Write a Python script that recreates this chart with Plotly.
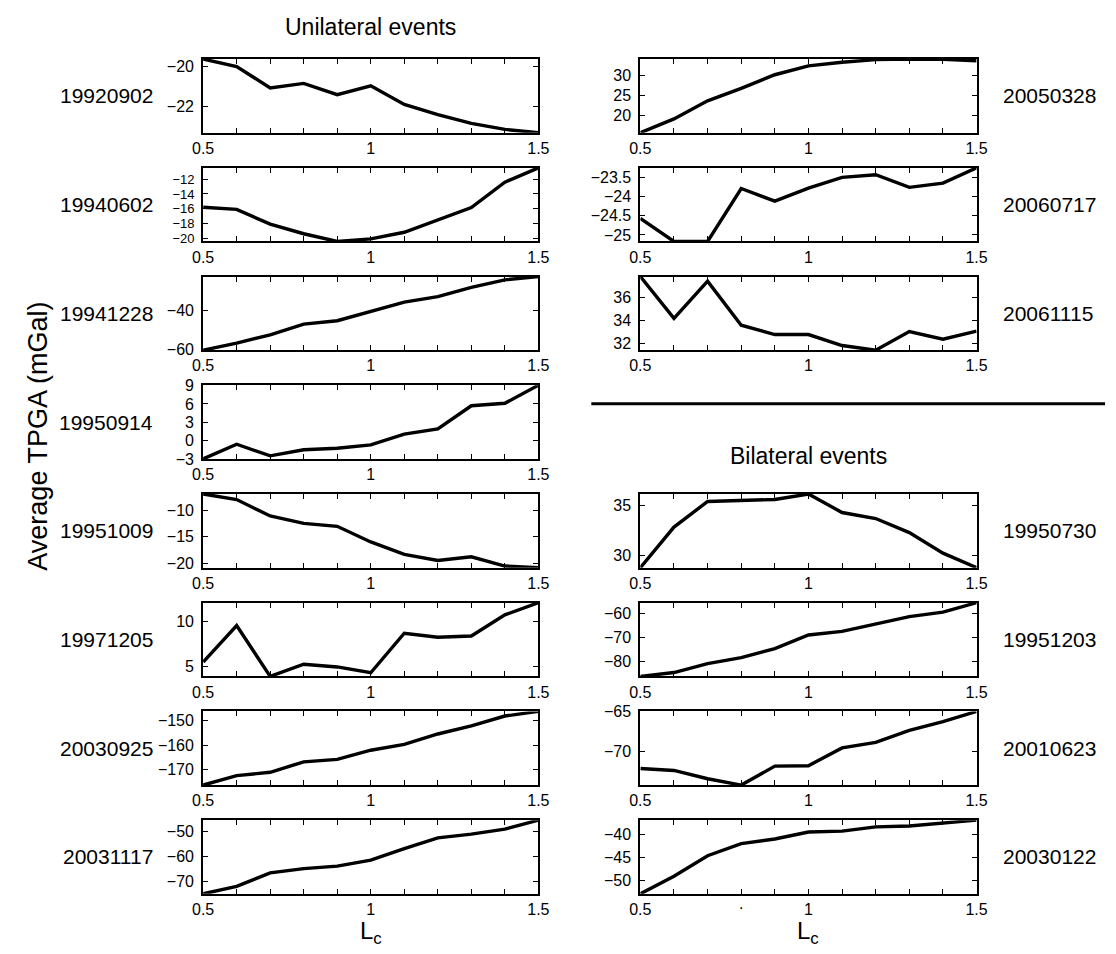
import plotly.graph_objects as go

# Cut-off wavelength L_c sampled along every curve
lc = [0.5, 0.6, 0.7, 0.8, 0.9, 1.0, 1.1, 1.2, 1.3, 1.4, 1.5]
lc_ticks = [0.5, 0.6, 0.7, 0.8, 0.9, 1.0, 1.1, 1.2, 1.3, 1.4, 1.5]
lc_ticktext = ["0.5", "", "", "", "", "1", "", "", "", "", "1.5"]

# Average TPGA (mGal), unilateral events
tpga_19920902 = [-19.62, -20.0, -21.08, -20.85, -21.42, -20.97, -21.92, -22.43, -22.88, -23.18, -23.35]
tpga_19940602 = [-15.8, -16.1, -18.1, -19.4, -20.45, -20.1, -19.2, -17.5, -15.85, -12.4, -10.45]
tpga_19941228 = [-60.3, -56.7, -52.5, -47.0, -45.3, -40.5, -35.8, -33.0, -28.3, -24.5, -22.8]
tpga_19950914 = [-3.0, -0.6, -2.5, -1.5, -1.25, -0.7, 1.05, 1.9, 5.7, 6.1, 9.05]
tpga_19951009 = [-6.95, -8.0, -11.1, -12.5, -13.05, -16.0, -18.35, -19.5, -18.8, -20.55, -20.85]
tpga_19971205 = [5.45, 9.5, 3.85, 5.2, 4.9, 4.25, 8.65, 8.2, 8.35, 10.7, 12.05]
tpga_20030925 = [-176.5, -172.6, -171.2, -166.9, -165.9, -162.1, -159.7, -155.4, -152.1, -148.0, -146.1]
tpga_20031117 = [-75.0, -72.0, -66.6, -64.9, -63.9, -61.5, -56.9, -52.6, -51.1, -49.1, -45.5]
tpga_20050328 = [15.65, 19.1, 23.6, 26.7, 30.1, 32.3, 33.2, 33.85, 34.0, 33.95, 33.6]
tpga_20060717 = [-24.57, -25.17, -25.17, -23.79, -24.12, -23.78, -23.5, -23.43, -23.76, -23.65, -23.25]
tpga_20061115 = [37.8, 34.2, 37.4, 33.6, 32.8, 32.8, 31.85, 31.45, 33.05, 32.4, 33.1]

# Average TPGA (mGal), bilateral events
tpga_19950730 = [28.8, 32.85, 35.4, 35.5, 35.6, 36.15, 34.3, 33.7, 32.3, 30.25, 28.8]
tpga_19951203 = [-86.3, -84.7, -81.0, -78.5, -74.8, -69.1, -67.6, -64.4, -61.5, -59.6, -55.7]
tpga_20010623 = [-72.2, -72.45, -73.5, -74.3, -71.9, -71.85, -69.6, -68.9, -67.4, -66.3, -65.0]
tpga_20030122 = [-52.8, -49.0, -44.6, -42.0, -41.0, -39.5, -39.3, -38.4, -38.2, -37.5, -36.95]

# y tick values of each panel
yt_19920902 = [-22, -20]
yt_19940602 = [-20, -18, -16, -14, -12]
yt_19941228 = [-60, -40]
yt_19950914 = [-3, 0, 3, 6, 9]
yt_19951009 = [-20, -15, -10]
yt_19971205 = [5, 10]
yt_20030925 = [-170, -160, -150]
yt_20031117 = [-70, -60, -50]
yt_20050328 = [20, 25, 30]
yt_20060717 = [-25, -24.5, -24, -23.5]
yt_20061115 = [32, 34, 36]
yt_19950730 = [30, 35]
yt_19951203 = [-80, -70, -60]
yt_20010623 = [-70, -65]
yt_20030122 = [-50, -45, -40]

# (event label, values, y ticks, column, row)
panels = [
    ("19920902", tpga_19920902, yt_19920902, "L", 0),
    ("19940602", tpga_19940602, yt_19940602, "L", 1),
    ("19941228", tpga_19941228, yt_19941228, "L", 2),
    ("19950914", tpga_19950914, yt_19950914, "L", 3),
    ("19951009", tpga_19951009, yt_19951009, "L", 4),
    ("19971205", tpga_19971205, yt_19971205, "L", 5),
    ("20030925", tpga_20030925, yt_20030925, "L", 6),
    ("20031117", tpga_20031117, yt_20031117, "L", 7),
    ("20050328", tpga_20050328, yt_20050328, "R", 0),
    ("20060717", tpga_20060717, yt_20060717, "R", 1),
    ("20061115", tpga_20061115, yt_20061115, "R", 2),
    ("19950730", tpga_19950730, yt_19950730, "R", 4),
    ("19951203", tpga_19951203, yt_19951203, "R", 5),
    ("20010623", tpga_20010623, yt_20010623, "R", 6),
    ("20030122", tpga_20030122, yt_20030122, "R", 7),
]

W, H = 1116, 954
FONT = "Liberation Sans, Arial, Helvetica, sans-serif"
COL_X = {"L": (196, 538), "R": (642, 985)}
TOP0, STEP, PANEL_H = 52, 110.7, 75


def fmt(v):
    s = ("%g" % v)
    return s.replace("-", "\u2212")


def px_x(x):
    return x / W


def px_y(y):
    return 1 - y / H


fig = go.Figure()
layout = {}
annotations = []

for i, (name, vals, yt, col, row) in enumerate(panels):
    n = i + 1
    xs = "" if n == 1 else str(n)
    x0, x1 = COL_X[col]
    top = TOP0 + row * STEP
    bot = top + PANEL_H

    fig.add_trace(go.Scatter(
        x=lc, y=vals, mode="lines",
        line=dict(color="black", width=3.4),
        xaxis="x" + xs, yaxis="y" + xs,
        showlegend=False, hoverinfo="skip",
    ))

    common = dict(
        showline=True, linecolor="black", linewidth=2, mirror="ticks",
        ticks="inside", ticklen=5, tickwidth=1, tickcolor="black",
        showgrid=False, zeroline=False,
    )
    # tick labels sized to the spacing of the ticks on each panel
    span = max(vals) - min(vals)
    gap_px = PANEL_H * (yt[1] - yt[0]) / span
    ysize = 16 if gap_px > 17 else 13
    layout["xaxis" + xs] = dict(
        common, domain=[px_x(x0), px_x(x1)], anchor="y" + xs,
        range=[lc[0], lc[-1]], tickmode="array",
        tickvals=lc_ticks, ticktext=lc_ticktext,
        tickfont=dict(family=FONT, size=16, color="black"),
    )
    layout["yaxis" + xs] = dict(
        common, domain=[px_y(bot), px_y(top)], anchor="x" + xs,
        range=[min(vals), max(vals)], tickmode="array",
        tickvals=yt, ticktext=[fmt(v) for v in yt],
        ticklabelstandoff=4,
        tickfont=dict(family=FONT, size=ysize, color="black"),
    )

    # event date beside each panel
    annotations.append(dict(
        text=name, xref="paper", yref="paper",
        x=px_x(147) if col == "L" else px_x(1010),
        xanchor="right" if col == "L" else "left",
        y=px_y((top + bot) / 2), yanchor="middle",
        showarrow=False, font=dict(family=FONT, size=21, color="black"),
    ))

# group titles
annotations.append(dict(
    text="Unilateral events", xref="paper", yref="paper",
    x=px_x(367), y=px_y(19), xanchor="center", yanchor="middle",
    showarrow=False, font=dict(family=FONT, size=23, color="black"),
))
annotations.append(dict(
    text="Bilateral events", xref="paper", yref="paper",
    x=px_x(813.5), y=px_y(456), xanchor="center", yanchor="middle",
    showarrow=False, font=dict(family=FONT, size=23, color="black"),
))

# shared axis titles
annotations.append(dict(
    text="Average TPGA (mGal)", xref="paper", yref="paper",
    x=px_x(28), y=px_y(436), xanchor="center", yanchor="middle",
    textangle=-90, showarrow=False,
    font=dict(family=FONT, size=27, color="black"),
))
for cx in (367, 813.5):
    annotations.append(dict(
        text="L<sub>c</sub>", xref="paper", yref="paper",
        x=px_x(cx), y=px_y(941), xanchor="center", yanchor="middle",
        showarrow=False, font=dict(family=FONT, size=24, color="black"),
    ))

# stray dot on the last bilateral axis
annotations.append(dict(
    text=".", xref="x15", yref="paper",
    x=0.8, y=px_y(912), xanchor="center", yanchor="middle",
    showarrow=False, font=dict(family=FONT, size=16, color="black"),
))

# separator between unilateral and bilateral groups
shapes = [dict(
    type="line", xref="paper", yref="paper",
    x0=px_x(592), x1=1.0, y0=px_y(403), y1=px_y(403),
    line=dict(color="black", width=3),
)]

fig.update_layout(
    width=W, height=H,
    margin=dict(l=0, r=0, t=0, b=0),
    paper_bgcolor="white", plot_bgcolor="white",
    annotations=annotations, shapes=shapes,
    font=dict(family=FONT, color="black"),
    **layout,
)

fig.write_html("out.html")
